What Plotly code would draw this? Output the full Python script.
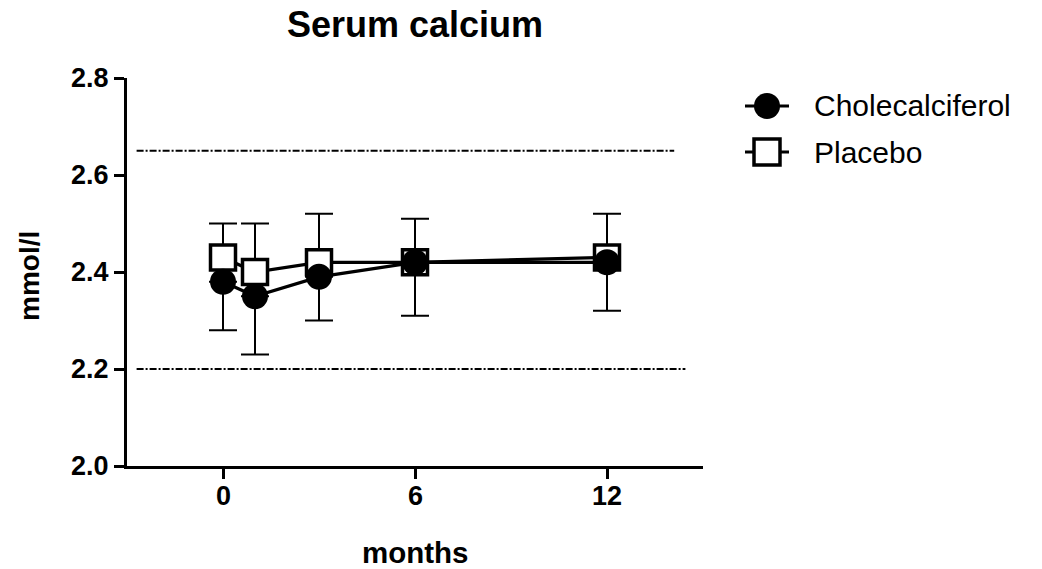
import plotly.graph_objects as go

# ---- data -------------------------------------------------------------
months = [0, 1, 3, 6, 12]

chol_mean = [2.38, 2.35, 2.39, 2.42, 2.42]
chol_err_down = [0.10, 0.12, 0.09, 0.11, 0.10]

plac_mean = [2.43, 2.40, 2.42, 2.42, 2.43]
plac_err_up = [0.07, 0.10, 0.10, 0.09, 0.09]

# reference range (dashed lines) and their horizontal spans
ref_levels = [2.65, 2.20]
ref_start = [-2.7, -2.7]
ref_end = [14.1, 14.45]

y_ticks = [2.0, 2.2, 2.4, 2.6, 2.8]
x_ticks = [0, 6, 12]

series_names = ["Cholecalciferol", "Placebo"]

# ---- layout geometry (pixels) -----------------------------------------
W, H = 1042, 569
ML, MR, MT, MB = 127, 339, 78, 103
PW, PH = W - ML - MR, H - MT - MB


def px_x(px):
    return (px - ML) / PW


def px_y(py):
    return (H - MB - py) / PH


FONT = "Liberation Sans, Arial, Helvetica, sans-serif"
BLACK = "#000000"

fig = go.Figure()

# Placebo: open squares, upper error bars
fig.add_trace(go.Scatter(
    x=months, y=plac_mean, name=series_names[1], mode="lines+markers",
    line=dict(color=BLACK, width=3.2),
    marker=dict(symbol="square", size=25, color="white",
                line=dict(color=BLACK, width=3.5)),
    error_y=dict(type="data", symmetric=False, array=plac_err_up,
                 arrayminus=[0] * len(months), color=BLACK,
                 thickness=2, width=14),
    showlegend=False, cliponaxis=False,
))

# Cholecalciferol: filled circles, lower error bars
fig.add_trace(go.Scatter(
    x=months, y=chol_mean, name=series_names[0], mode="lines+markers",
    line=dict(color=BLACK, width=3.2),
    marker=dict(symbol="circle", size=26, color=BLACK,
                line=dict(color=BLACK, width=0)),
    error_y=dict(type="data", symmetric=False, array=[0] * len(months),
                 arrayminus=chol_err_down, color=BLACK,
                 thickness=2, width=14),
    showlegend=False, cliponaxis=False,
))

shapes = []
# dashed reference range lines
for lvl, x0, x1 in zip(ref_levels, ref_start, ref_end):
    shapes.append(dict(
        type="line", xref="x", yref="y", x0=x0, x1=x1, y0=lvl, y1=lvl,
        line=dict(color=BLACK, width=1.8, dash="7px,2px,2px,2px"),
        layer="below",
    ))

# hand-built legend swatches (line + marker)
leg_x = px_x(767)
leg_rows = [px_y(106), px_y(152)]
for row_y, kind in zip(leg_rows, ["circle", "square"]):
    shapes.append(dict(
        type="line", xref="paper", yref="paper", xsizemode="pixel",
        xanchor=leg_x, x0=-22, x1=22, y0=row_y, y1=row_y,
        line=dict(color=BLACK, width=2.8),
    ))
    if kind == "circle":
        shapes.append(dict(
            type="circle", xref="paper", yref="paper",
            xsizemode="pixel", ysizemode="pixel",
            xanchor=leg_x, yanchor=row_y, x0=-13, x1=13, y0=-13, y1=13,
            fillcolor=BLACK, line=dict(color=BLACK, width=0),
        ))
    else:
        shapes.append(dict(
            type="rect", xref="paper", yref="paper",
            xsizemode="pixel", ysizemode="pixel",
            xanchor=leg_x, yanchor=row_y, x0=-13, x1=13, y0=-13, y1=13,
            fillcolor="white", line=dict(color=BLACK, width=3.5),
        ))

annotations = []
for row_y, name in zip(leg_rows, series_names):
    annotations.append(dict(
        text=name, xref="paper", yref="paper", x=px_x(812), y=row_y,
        xanchor="left", yanchor="middle", showarrow=False,
        font=dict(family=FONT, size=30, color=BLACK),
    ))

# axis titles
annotations.append(dict(
    text="<b>months</b>", xref="paper", yref="paper", x=px_x(415), y=px_y(552),
    xanchor="center", yanchor="middle", showarrow=False,
    font=dict(family=FONT, size=29.5, color=BLACK),
))
annotations.append(dict(
    text="<b>mmol/l</b>", xref="paper", yref="paper", x=px_x(29), y=px_y(276),
    xanchor="center", yanchor="middle", showarrow=False, textangle=-90,
    font=dict(family=FONT, size=28, color=BLACK),
))

# x tick labels as annotations so they sit close under the ticks
for v in x_ticks:
    annotations.append(dict(
        text=f"<b>{v}</b>", xref="x", yref="paper", x=v, y=px_y(496),
        xanchor="center", yanchor="middle", showarrow=False,
        font=dict(family=FONT, size=27, color=BLACK),
    ))

fig.update_layout(
    width=W, height=H,
    margin=dict(l=ML, r=MR, t=MT, b=MB, pad=0),
    paper_bgcolor="white", plot_bgcolor="white",
    title=dict(
        text="<b>Serum calcium</b>", x=px_x(415), xref="paper",
        xanchor="center", y=1 - 24 / H, yref="container", yanchor="middle",
        font=dict(family=FONT, size=36, color=BLACK),
    ),
    xaxis=dict(
        range=[-3, 15], tickvals=x_ticks, showticklabels=False,
        showgrid=False, zeroline=False, showline=True, linecolor=BLACK,
        linewidth=3, ticks="outside", ticklen=10, tickwidth=3,
        tickcolor=BLACK,
    ),
    yaxis=dict(
        range=[2.0, 2.8], tickvals=y_ticks,
        ticktext=[f"{v:.1f}" for v in y_ticks],
        showgrid=False, zeroline=False, showline=True, linecolor=BLACK,
        linewidth=3, ticks="outside", ticklen=10, tickwidth=3,
        tickcolor=BLACK,
        tickfont=dict(family=FONT, size=27, color=BLACK, weight="bold"),
    ),
    shapes=shapes,
    annotations=annotations,
    showlegend=False,
)

fig.write_html("out.html")
